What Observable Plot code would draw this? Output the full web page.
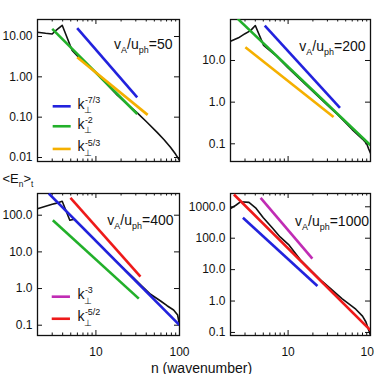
<!DOCTYPE html>
<html><head><meta charset="utf-8">
<script src="https://cdn.jsdelivr.net/npm/d3@7"></script>
<script src="https://cdn.jsdelivr.net/npm/@observablehq/plot@0.6"></script>
<style>
body{margin:0;background:#fff;}
#chart{position:relative;width:374px;height:374px;overflow:hidden;background:#fff;}
#chart svg{position:absolute;left:0;top:0;}
</style></head><body><div id="chart"></div>
<script>
// ---------- data ----------
const xTickLabels = [10, 100];
const xMinorTicks = [3,4,5,6,7,8,9,20,30,40,50,60,70,80,90];

// black spectra <E_n>_t versus n
const spec50N  = [2,2.5,3,3.3,3.95,5.2,6,7,8,10,13,18,25,31,40,54,65,78,90,100];
const spec50E  = [12.8,12,11.5,14,19,4.5,3.3,2.5,1.95,1.25,0.72,0.35,0.19,0.13,0.078,0.042,0.028,0.018,0.012,0.0085];
const spec200N = [2,2.5,3,3.5,4,5.05,7,10,15,20,30,40,60,80,90,95,100];
const spec200E = [29,35,44,52,69,23,13.5,6.6,3.1,1.8,0.85,0.5,0.22,0.13,0.1,0.075,0.06];
const spec400N = [2,2.5,3,3.3,3.95,4.87,5.5,7,10,15,20,28,35,45,60,71,85,95,100];
const spec400E = [150,175,200,210,240,73,78,45,20,7.8,4.1,2.0,1.2,0.7,0.45,0.34,0.26,0.19,0.1];
const spec1000N = [2,2.3,2.64,3.35,4.03,5,6.42,8,10.3,14,19.7,26,34.7,45,66.3,80,88,95,100];
const spec1000E = [880,1100,1440,1380,930,450,214,110,60,21,8.5,4.2,2.2,1.2,0.55,0.33,0.215,0.12,0.08];

// reference power-law segments: exponent, start (n0,e0), end (n1,e1)
const refs50 = [
  {slope:"-7/3", n0:5.97, e0:16.1, n1:31.2, e1:0.31},
  {slope:"-2",   n0:3.0,  e0:15.5, n1:31.2, e1:0.12},
  {slope:"-5/3", n0:5.97, e0:3.06, n1:41.6, e1:0.114}
];
const refs200 = [
  {slope:"-7/3", n0:5.21, e0:69,  n1:42.6, e1:0.73},
  {slope:"-2",   n0:2.45, e0:100, n1:100,  e1:0.092},
  {slope:"-5/3", n0:3.03, e0:20.8, n1:35.6, e1:0.44}
];
const refs400 = [
  {slope:"-7/3", n0:2.73, e0:390, n1:100,  e1:0.101},
  {slope:"-2",   n0:3.05, e0:73,  n1:32.6, e1:0.53},
  {slope:"-5/2", n0:4.96, e0:298, n1:34.1, e1:2.1}
];
const refs1000 = [
  {slope:"-5/2", n0:2.2,  e0:2465, n1:100,  e1:0.117},
  {slope:"-7/3", n0:2.83, e0:447,  n1:22.7, e1:3.03},
  {slope:"-3",   n0:4.64, e0:1933, n1:19.7, e1:22.5}
];

const legend50Slopes = ["-7/3", "-2", "-5/3"];
const legend400Slopes = ["-3", "-5/2"];

const yTicks50 = [10, 1, 0.1, 0.01];
const yTicks200 = [10, 1, 0.1];
const yTicks400 = [100, 10, 1, 0.1];
const yTicks1000 = [1000, 100, 10, 1, 0.1];

const ratioLabels = ["50", "200", "400", "1000"];

// ---------- styles / layout ----------
const colors = {"-7/3":"#2222dd", "-2":"#22b02a", "-5/3":"#f5b000", "-3":"#c02cb4", "-5/2":"#ee1a1a"};
const FONT = "'Liberation Sans', Arial, Helvetica, sans-serif";

const panels = [
  {n:spec50N, e:spec50E, refs:refs50, yTicks:yTicks50, fmt:d3.format(".2f"), yDomain:[0.00796,26.4],
   left:37, right:179, top:19, bottom:161, xAxis:false, label:ratioLabels[0], tdx:-7, tdy:29,
   legend:{slopes:legend50Slopes, ys:[0.186,0.0595,0.0163], x0:3.08, x1:5.06, xt:6.0}, ylab:true},
  {n:spec200N, e:spec200E, refs:refs200, yTicks:yTicks200, fmt:d3.format(".1f"), yDomain:[0.0376,96.4],
   left:230, right:370, top:19, bottom:161, xAxis:false, label:ratioLabels[1], tdx:-5, tdy:31},
  {n:spec400N, e:spec400E, refs:refs400, yTicks:yTicks400, fmt:d3.format(".1f"), yDomain:[0.0524,391],
   left:37, right:179, top:193, bottom:335, xAxis:true, label:ratioLabels[2], tdx:-6, tdy:31,
   legend:{slopes:legend400Slopes, ys:[0.6,0.15], x0:3.0, x1:4.96, xt:6.0}, xlab:true},
  {n:spec1000N, e:spec1000E, refs:refs1000, yTicks:yTicks1000, fmt:d3.format(".1f"), yDomain:[0.08,2650],
   left:230, right:370, top:193, bottom:335, xAxis:true, label:ratioLabels[3], tdx:-1.5, tdy:32}
];

const W = 374, H = 374;
const chart = document.getElementById("chart");

for (const p of panels) {
  const pw = p.right - p.left, ph = p.bottom - p.top;
  const curve = p.n.map((x, i) => ({n: x, e: p.e[i]}));
  const marks = [
    Plot.frame({stroke: "#111", strokeWidth: 1.3}),
    Plot.tickY(p.yTicks, {y: d => d, insetRight: pw - 5, stroke: "#111"}),
    Plot.tickY(p.yTicks, {y: d => d, insetLeft: pw - 5, stroke: "#111"}),
    Plot.tickX(xTickLabels, {x: d => d, insetTop: ph - 5, stroke: "#111"}),
    Plot.tickX(xTickLabels, {x: d => d, insetBottom: ph - 5, stroke: "#111"}),
    Plot.tickX(xMinorTicks, {x: d => d, insetTop: ph - 2.5, stroke: "#111"}),
    Plot.tickX(xMinorTicks, {x: d => d, insetBottom: ph - 2.5, stroke: "#111"}),
    Plot.line(curve, {x: "n", y: "e", stroke: "#111", strokeWidth: 1.6, clip: true}),
    Plot.link(p.refs, {x1: "n0", y1: "e0", x2: "n1", y2: "e1", stroke: d => colors[d.slope], strokeWidth: 2.6, clip: true}),
    Plot.text(["v_{A}/u_{ph}=" + p.label], {frameAnchor: "top-right", dx: p.tdx, dy: p.tdy, textAnchor: "end", lineAnchor: "bottom", fontSize: 14, text: d => d, fill: "#111"})
  ];
  if (p.legend) {
    const rows = p.legend.slopes.map((s, i) => ({slope: s, y: p.legend.ys[i]}));
    marks.push(Plot.ruleY(rows, {y: "y", x1: () => p.legend.x0, x2: () => p.legend.x1, stroke: d => colors[d.slope], strokeWidth: 2.6}));
    marks.push(Plot.text(rows, {x: () => p.legend.xt, y: "y", text: d => "k_{⊥}^{" + d.slope + "}", textAnchor: "start", fontSize: 14, dy: -2, fill: "#111"}));
  }
  if (p.ylab) {
    marks.push(Plot.text(["<E_{n}>_{t}"], {frameAnchor: "bottom-left", dx: -35, dy: 21, textAnchor: "start", lineAnchor: "bottom", fontSize: 13, text: d => d, fill: "#111"}));
  }
  if (p.xlab) {
    marks.push(Plot.text(["n (wavenumber)"], {frameAnchor: "bottom-right", dx: 22, dy: 37, textAnchor: "middle", lineAnchor: "bottom", fontSize: 14, text: d => d, fill: "#111"}));
  }
  const svg = Plot.plot({
    width: W, height: H,
    marginLeft: p.left, marginRight: W - p.right, marginTop: p.top, marginBottom: H - p.bottom,
    style: {background: "none", fontFamily: FONT, fontSize: "12px", color: "#111", overflow: "visible"},
    x: {type: "log", domain: [2, 100], axis: p.xAxis ? "bottom" : null, ticks: xTickLabels,
        tickFormat: d => String(d), tickSize: 0, tickPadding: 12, label: null},
    y: {type: "log", domain: p.yDomain, ticks: p.yTicks, tickFormat: p.fmt, tickSize: 0, tickPadding: 5, label: null},
    marks
  });
  chart.appendChild(svg);
}

// rich text: _{..} subscripts, ^{..} superscripts (stacked over a preceding subscript)
const NS = "http://www.w3.org/2000/svg";
function richify(el) {
  const s = el.textContent;
  if (!/[_^]\{/.test(s)) return;
  const fs = parseFloat(getComputedStyle(el).fontSize) || 12;
  const small = fs * 0.64, subOff = fs * 0.32, supOff = fs * 0.42;
  el.textContent = "";
  const re = /([_^])\{([^}]*)\}|([^_^]+)/g;
  let m, level = 0, prevSubW = 0;
  while ((m = re.exec(s))) {
    const t = document.createElementNS(NS, "tspan");
    let target, isSub = false;
    if (m[3] !== undefined) { target = 0; t.textContent = m[3]; t.setAttribute("font-size", fs); }
    else if (m[1] === "_") { target = subOff; isSub = true; t.textContent = m[2]; t.setAttribute("font-size", small); }
    else { target = -supOff; t.textContent = m[2]; t.setAttribute("font-size", small);
           if (prevSubW) t.setAttribute("dx", -prevSubW + 0.5); }
    if (target !== level) t.setAttribute("dy", target - level);
    level = target;
    el.appendChild(t);
    prevSubW = isSub ? t.getComputedTextLength() : 0;
  }
}
chart.querySelectorAll("text").forEach(richify);
</script></body></html>
